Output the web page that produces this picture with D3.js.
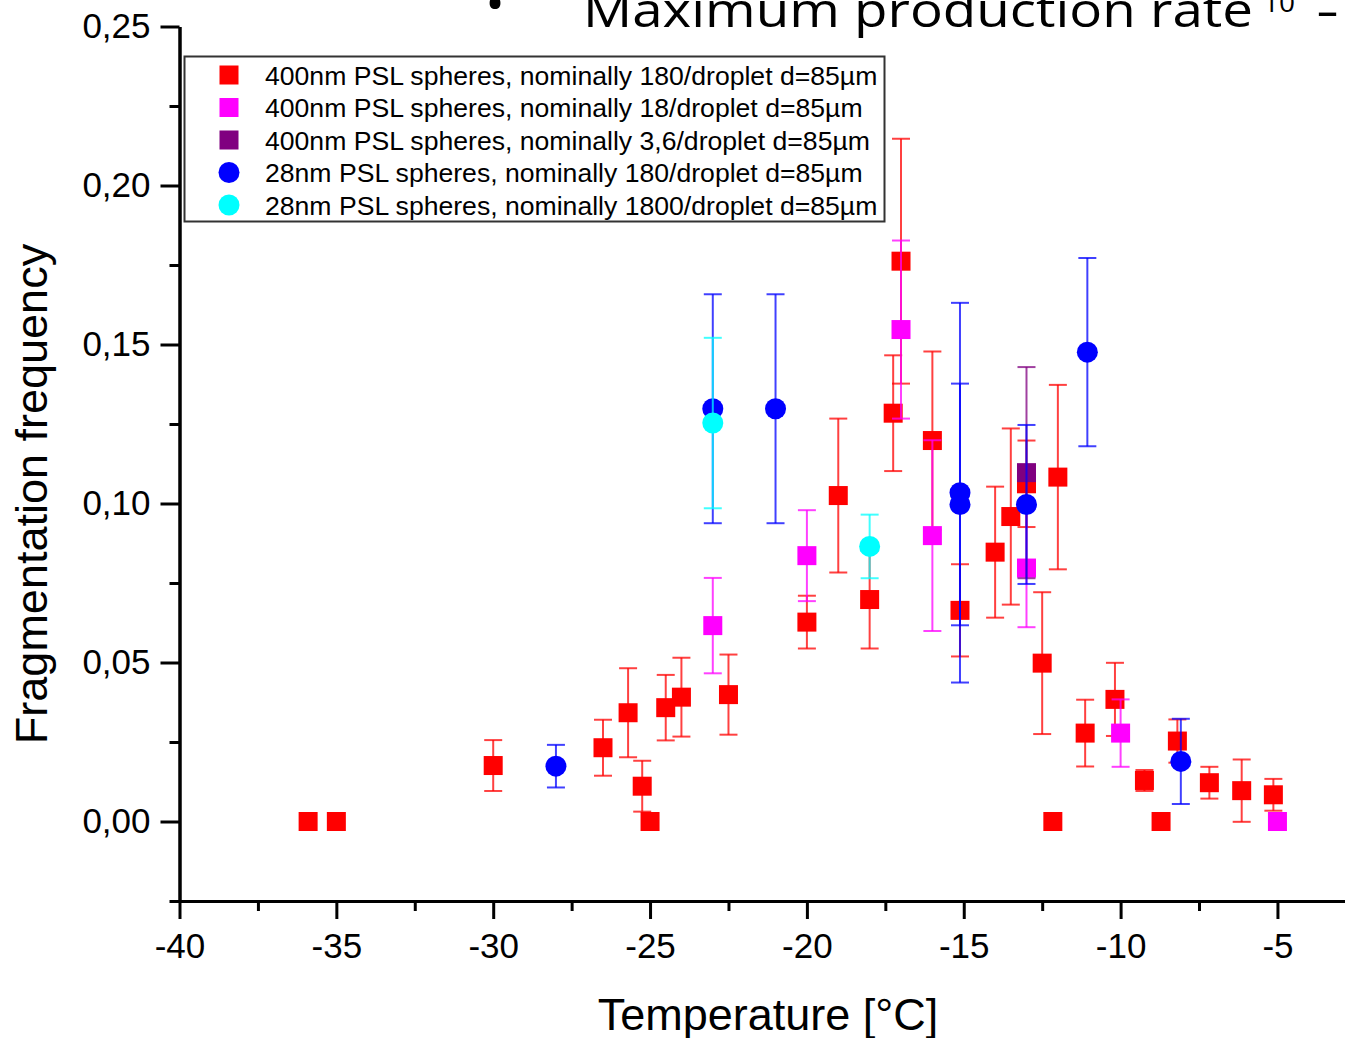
<!DOCTYPE html>
<html>
<head>
<meta charset="utf-8">
<script src="https://cdn.jsdelivr.net/npm/d3@7"></script>
<style>
  html, body { margin: 0; padding: 0; background: #fff; }
  svg { display: block; }
  text { font-family: "Liberation Sans", Arial, sans-serif; fill: #000; }
</style>
</head>
<body>
<svg id="chart" width="1345" height="1038"></svg>
<script>
// ---------- DATA ----------
const xTickValues = [-40, -35, -30, -25, -20, -15, -10, -5];
const xTickLabels = ["-40", "-35", "-30", "-25", "-20", "-15", "-10", "-5"];
const xMinorTicks = [-37.5, -32.5, -27.5, -22.5, -17.5, -12.5, -7.5];
const yTickValues = [0, 0.05, 0.10, 0.15, 0.20, 0.25];
const yTickLabels = ["0,00", "0,05", "0,10", "0,15", "0,20", "0,25"];
const yMinorTicks = [-0.025, 0.025, 0.075, 0.125, 0.175, 0.225];

const seriesNames = [
  "400nm PSL spheres, nominally 180/droplet d=85\u00b5m",
  "400nm PSL spheres, nominally 18/droplet d=85\u00b5m",
  "400nm PSL spheres, nominally 3,6/droplet d=85\u00b5m",
  "28nm PSL spheres, nominally 180/droplet d=85\u00b5m",
  "28nm PSL spheres, nominally 1800/droplet d=85\u00b5m"
];
const seriesColors = ["#ff0000", "#ff00ff", "#800080", "#0000ff", "#00ffff"];
const seriesShapes = ["square", "square", "square", "circle", "circle"];

// 400nm, 180/droplet (red)
const redX   = [-35.9, -35, -30, -26.5, -25.7, -25.25, -25, -24.5, -24, -22.5, -20, -19, -18, -17.25, -17, -16, -15.12, -14, -13.5, -13, -12.5, -12.16, -12, -11.13, -10.18, -9.24, -8.71, -8.19, -7.17, -6.14, -5.13];
const redY   = [0, 0, 0.0176, 0.0232, 0.0342, 0.0111, 0, 0.0358, 0.0391, 0.0399, 0.0627, 0.1025, 0.0698, 0.1284, 0.1762, 0.1198, 0.0664, 0.0847, 0.0959, 0.1062, 0.0498, 0, 0.1083, 0.0278, 0.0384, 0.0129, 0, 0.0253, 0.0122, 0.0097, 0.0084];
const redErr = [0, 0, 0.008, 0.0088, 0.014, 0.008, 0, 0.0103, 0.0124, 0.0126, 0.0083, 0.0242, 0.0154, 0.0182, 0.0385, 0.028, 0.0145, 0.0206, 0.0277, 0.0136, 0.0223, 0, 0.029, 0.0105, 0.0115, 0.0033, 0, 0.0068, 0.005, 0.0098, 0.005];

// 400nm, 18/droplet (magenta)
const magX   = [-23, -20, -17, -16, -13, -10, -5];
const magY   = [0.0616, 0.0836, 0.1547, 0.0899, 0.0797, 0.0278, 0];
const magErr = [0.015, 0.0143, 0.028, 0.030, 0.0186, 0.0106, 0];

// 400nm, 3,6/droplet (purple)
const purX   = [-13];
const purY   = [0.1097];
const purErr = [0.0332];

// 28nm, 180/droplet (blue)
const bluX   = [-28, -23, -21, -15.12, -15.12, -13, -11.06, -8.08];
const bluY   = [0.0174, 0.1298, 0.1298, 0.1034, 0.0997, 0.0997, 0.1476, 0.0189];
const bluErr = [0.0067, 0.036, 0.036, 0.0597, 0.038, 0.025, 0.0296, 0.0134];

// 28nm, 1800/droplet (cyan)
const cyaX   = [-23, -18];
const cyaY   = [0.1253, 0.0865];
const cyaErr = [0.0268, 0.010];

const seriesData = [
  [redX, redY, redErr],
  [magX, magY, magErr],
  [purX, purY, purErr],
  [bluX, bluY, bluErr],
  [cyaX, cyaY, cyaErr]
];

// ---------- CHART ----------
const svg = d3.select("#chart");

const x = d3.scaleLinear().domain([-40, -2.5]).range([179.5, 179.5 + 37.5 * 31.37]);
const y = d3.scaleLinear().domain([-0.025, 0.25]).range([901, 26.5]);

// Background slide title (cropped at the top edge, as in the source)
svg.append("text")
  .attr("x", 495).attr("y", 22)
  .attr("text-anchor", "middle")
  .style("font-family", "'Open Sans', 'Noto Sans', sans-serif")
  .style("font-size", "52px")
  .text("\u2022");
svg.append("text")
  .attr("x", 583).attr("y", 27)
  .attr("textLength", 670).attr("lengthAdjust", "spacingAndGlyphs")
  .style("font-family", "'Open Sans', 'Noto Sans', sans-serif")
  .style("font-size", "47px")
  .text("Maximum production rate");
svg.append("text")
  .attr("x", 1263).attr("y", 12)
  .style("font-family", "'Open Sans', 'Noto Sans', sans-serif")
  .style("font-size", "28px")
  .text("10");
svg.append("text")
  .attr("x", 1316).attr("y", 27)
  .attr("textLength", 23).attr("lengthAdjust", "spacingAndGlyphs")
  .style("font-family", "'Open Sans', 'Noto Sans', sans-serif")
  .style("font-size", "47px")
  .text("-");

// Axes
const axisStroke = 3;

const yAxis = svg.append("g").attr("transform", `translate(${x(-40)},0)`)
  .call(d3.axisLeft(y).tickValues(yTickValues)
    .tickFormat((d, i) => yTickLabels[i]).tickSize(19).tickPadding(10).tickSizeOuter(0));
const yMinor = svg.append("g").attr("transform", `translate(${x(-40)},0)`)
  .call(d3.axisLeft(y).tickValues(yMinorTicks).tickFormat("").tickSize(10).tickSizeOuter(0));

const xAxis = svg.append("g").attr("transform", `translate(0,${y(-0.025)})`)
  .call(d3.axisBottom(x).tickValues(xTickValues)
    .tickFormat((d, i) => xTickLabels[i]).tickSize(18).tickPadding(14).tickSizeOuter(0));
const xMinor = svg.append("g").attr("transform", `translate(0,${y(-0.025)})`)
  .call(d3.axisBottom(x).tickValues(xMinorTicks).tickFormat("").tickSize(10).tickSizeOuter(0));

[yAxis, yMinor, xAxis, xMinor].forEach(g => {
  g.selectAll("path.domain").attr("stroke", "#000").attr("stroke-width", axisStroke);
  g.selectAll(".tick line").attr("stroke", "#000").attr("stroke-width", axisStroke);
  g.selectAll(".tick text")
    .style("font-family", "'Liberation Sans', Arial, sans-serif")
    .style("font-size", "35px")
    .attr("fill", "#000");
});

// Axis titles
svg.append("text")
  .attr("x", 768).attr("y", 1030)
  .attr("text-anchor", "middle")
  .style("font-size", "45px")
  .text("Temperature [\u00b0C]");
svg.append("text")
  .attr("transform", "translate(47,494) rotate(-90)")
  .attr("text-anchor", "middle")
  .style("font-size", "45px")
  .text("Fragmentation frequency");

// Data: error bars then markers, series by series
const capW = 18;
const sqSize = 19;
const circR = 10.5;

seriesData.forEach((s, i) => {
  const [xs, ys, es] = s;
  const pts = xs.map((xv, j) => ({ x: xv, y: ys[j], e: es[j] }));
  const col = seriesColors[i];
  const g = svg.append("g");
  const eb = g.append("g").attr("stroke", col).attr("stroke-width", 2).attr("stroke-opacity", 0.75);
  pts.filter(p => p.e > 0).forEach(p => {
    eb.append("line").attr("x1", x(p.x)).attr("x2", x(p.x)).attr("y1", y(p.y - p.e)).attr("y2", y(p.y + p.e));
    eb.append("line").attr("x1", x(p.x) - capW / 2).attr("x2", x(p.x) + capW / 2).attr("y1", y(p.y + p.e)).attr("y2", y(p.y + p.e));
    eb.append("line").attr("x1", x(p.x) - capW / 2).attr("x2", x(p.x) + capW / 2).attr("y1", y(p.y - p.e)).attr("y2", y(p.y - p.e));
  });
  if (seriesShapes[i] === "square") {
    g.selectAll("rect.m").data(pts).join("rect").attr("class", "m")
      .attr("x", p => x(p.x) - sqSize / 2).attr("y", p => y(p.y) - sqSize / 2)
      .attr("width", sqSize).attr("height", sqSize).attr("fill", col);
  } else {
    g.selectAll("circle.m").data(pts).join("circle").attr("class", "m")
      .attr("cx", p => x(p.x)).attr("cy", p => y(p.y)).attr("r", circR).attr("fill", col);
  }
});

// Legend
const lg = svg.append("g");
lg.append("rect").attr("x", 184.5).attr("y", 56.5).attr("width", 700).attr("height", 165)
  .attr("fill", "#fff").attr("stroke", "#333").attr("stroke-width", 2);
seriesNames.forEach((name, i) => {
  const cy = 75 + i * 32.5;
  if (seriesShapes[i] === "square") {
    lg.append("rect").attr("x", 229 - sqSize / 2).attr("y", cy - sqSize / 2)
      .attr("width", sqSize).attr("height", sqSize).attr("fill", seriesColors[i]);
  } else {
    lg.append("circle").attr("cx", 229).attr("cy", cy).attr("r", circR).attr("fill", seriesColors[i]);
  }
  lg.append("text").attr("x", 265).attr("y", cy).attr("dy", "0.36em")
    .style("font-size", "26.6px").text(name);
});
</script>
</body>
</html>
